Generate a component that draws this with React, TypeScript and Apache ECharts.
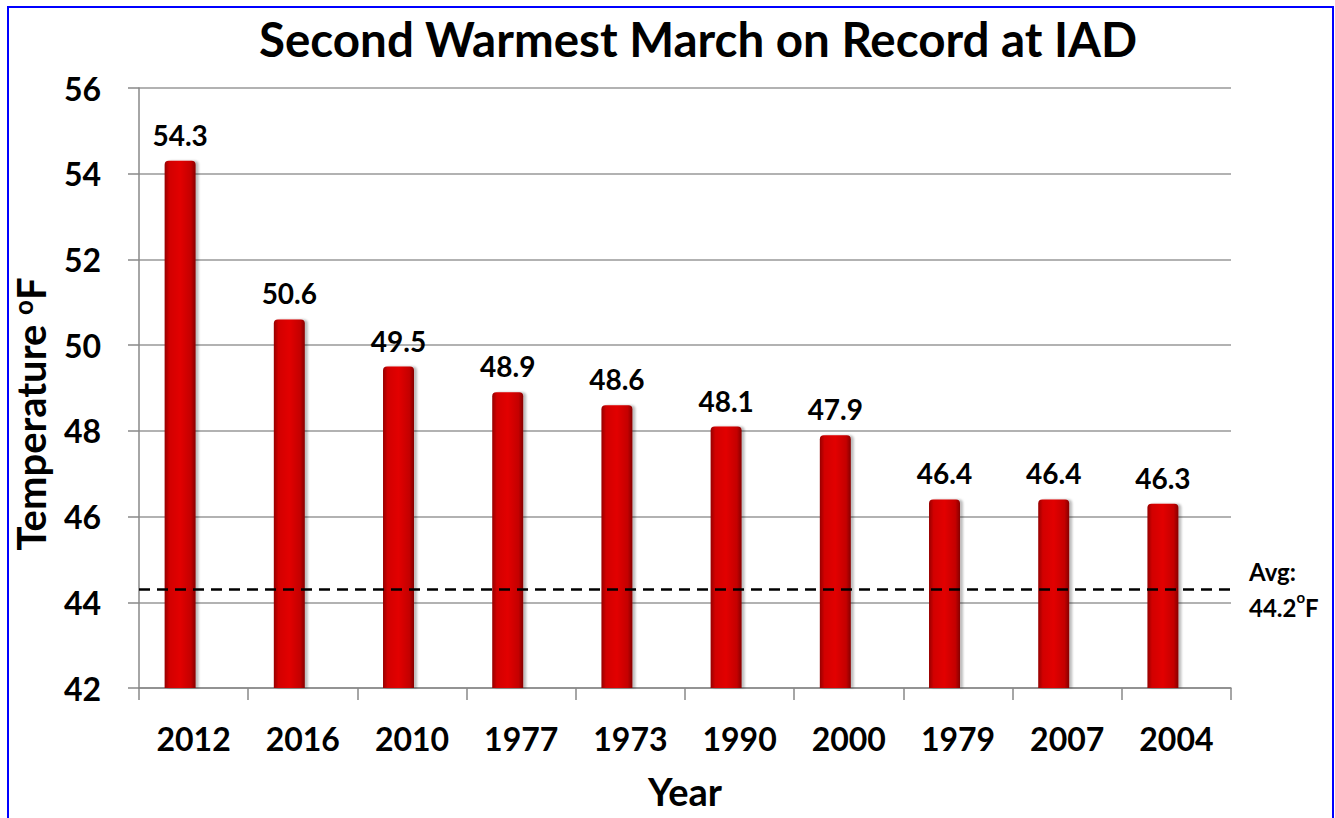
import React, { useEffect, useRef } from "react";
import * as echarts from "echarts";

const years = ["2012", "2016", "2010", "1977", "1973", "1990", "2000", "1979", "2007", "2004"];
const temps = [54.3, 50.6, 49.5, 48.9, 48.6, 48.1, 47.9, 46.4, 46.4, 46.3];
const avgLine = 44.3;
const avgText = "44.2";
const yMin = 42;
const yMax = 56;
const yStep = 2;

const FONT = "Lato";

export default function App() {
  const ref = useRef<HTMLDivElement>(null);
  useEffect(() => {
    document.body.style.margin = "0";
    const chart = echarts.init(ref.current!, null, { renderer: "svg" });
    const barGrad = new echarts.graphic.LinearGradient(0, 0, 1, 0, [
      { offset: 0, color: "#960000" },
      { offset: 0.15, color: "#d20000" },
      { offset: 0.5, color: "#e20404" },
      { offset: 0.85, color: "#c40000" },
      { offset: 1, color: "#860000" },
    ]);
    chart.setOption({
      animation: false,
      backgroundColor: "#ffffff",
      textStyle: { fontFamily: FONT },
      title: {
        text: "Second Warmest March on Record at IAD",
        left: 254,
        top: 9,
        textStyle: { fontFamily: FONT, fontWeight: "bold", fontSize: 47.5, color: "#000" },
      },
      graphic: [
        {
          type: "rect",
          shape: { x: 8, y: 7, width: 1325, height: 830 },
          style: { fill: "none", stroke: "#0000ff", lineWidth: 2 },
          silent: true,
        },
      ],
      grid: { left: 139, right: 104, top: 88, bottom: 130 },
      xAxis: {
        type: "category",
        data: years,
        name: "Year",
        nameLocation: "middle",
        nameGap: 84,
        nameTextStyle: { fontFamily: FONT, fontWeight: "bold", fontSize: 38, color: "#000" },
        axisLine: { lineStyle: { color: "#888", width: 1.5 } },
        axisTick: { show: true, length: 12, lineStyle: { color: "#888", width: 1.5 } },
        axisLabel: { fontFamily: FONT, fontWeight: "bold", fontSize: 32, color: "#000", margin: 34 },
      },
      yAxis: {
        type: "value",
        min: yMin,
        max: yMax,
        interval: yStep,
        name: "Temperature {sup|o}F",
        nameLocation: "middle",
        nameGap: 87,
        nameTextStyle: {
          fontFamily: FONT,
          fontWeight: "bold",
          fontSize: 40,
          color: "#000",
          padding: [0, 52, 0, 0],
          rich: {
            sup: { fontFamily: FONT, fontWeight: "bold", fontSize: 26, color: "#000", verticalAlign: "top", padding: [0, 0, 16, 0] },
          },
        },
        axisLine: { show: true, lineStyle: { color: "#888", width: 1.5 } },
        axisTick: { show: true, length: 11, lineStyle: { color: "#888", width: 1.5 } },
        splitLine: { show: true, lineStyle: { color: "#999", width: 1.5 } },
        axisLabel: { fontFamily: FONT, fontWeight: "bold", fontSize: 32, color: "#000", margin: 38 },
      },
      series: [
        {
          type: "bar",
          data: temps,
          barWidth: 31,
          barGap: "-13%",
          itemStyle: {
            color: barGrad,
            borderRadius: [4, 4, 0, 0],
            shadowColor: "rgba(0,0,0,0.25)",
            shadowOffsetX: 3,
            shadowBlur: 2,
          },
          label: {
            show: true,
            position: "top",
            distance: 12,
            fontFamily: FONT,
            fontWeight: "bold",
            fontSize: 28,
            color: "#000",
            formatter: (p: any) => Number(p.value).toFixed(1),
          },
          markLine: {
            silent: true,
            symbol: "none",
            data: [{ yAxis: avgLine }],
            lineStyle: { type: [11, 7], color: "#000", width: 2.5 },
            label: {
              show: true,
              position: "end",
              distance: 18,
              formatter: "{a|Avg:}\n{a|" + avgText + "}{s|o}{a|F}",
              rich: {
                a: { fontFamily: FONT, fontWeight: "bold", fontSize: 24, color: "#000", lineHeight: 36 },
                s: { fontFamily: FONT, fontWeight: "bold", fontSize: 15, color: "#000", lineHeight: 36, verticalAlign: "top", padding: [0, 0, 12, 0] },
              },
            },
          },
        },
        {
          type: "bar",
          data: temps,
          barWidth: 31,
          barGap: "-13%",
          silent: true,
          itemStyle: { color: "rgba(0,0,0,0)" },
        },
      ],
    });
    return () => chart.dispose();
  }, []);
  return <div ref={ref} style={{ width: 1335, height: 818 }} />;
}
